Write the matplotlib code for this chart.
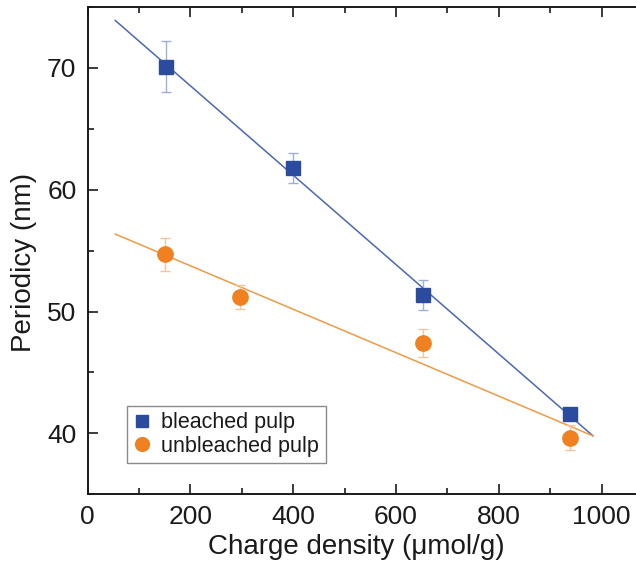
import numpy as np
import matplotlib
matplotlib.use("Agg")
import matplotlib.pyplot as plt
from matplotlib.ticker import MultipleLocator

plt.rcParams['font.family'] = ['Liberation Sans', 'DejaVu Sans']

# ---- data ----
bleached_x = [152, 400, 652, 939]
bleached_y = [70.1, 61.8, 51.35, 41.6]
bleached_err = [2.1, 1.25, 1.2, 0.3]

unbleached_x = [151, 296, 652, 939]
unbleached_y = [54.7, 51.2, 47.4, 39.65]
unbleached_err = [1.35, 1.0, 1.15, 1.0]

fit_x_range = [54, 983]

labels = ["bleached pulp", "unbleached pulp"]
xlabel = "Charge density (μmol/g)"
ylabel = "Periodicy (nm)"

# ---- figure ----
W, H = 636, 572
fig = plt.figure(figsize=(W / 100, H / 100), dpi=100)
px_per_unit = 0.5142
left_px, top_px, bottom_px = 87.5, 7.0, 494.3
xmax = 1100
ax = fig.add_axes([left_px / W, (H - bottom_px) / H,
                   xmax * px_per_unit / W, (bottom_px - top_px) / H])

blue = '#2a4b9e'
blue_line = '#4a68b4'
blue_err = '#9fb0d8'
orange = '#f08020'
orange_line = '#f09a45'
orange_err = '#f7c49a'

xf = np.linspace(fit_x_range[0], fit_x_range[1], 50)
pb = np.polyfit(bleached_x, bleached_y, 1)
pu = np.polyfit(unbleached_x, unbleached_y, 1)
ax.plot(xf, np.polyval(pb, xf), color=blue_line, lw=1.1, zorder=2)
ax.plot(xf, np.polyval(pu, xf), color=orange_line, lw=1.1, zorder=2)

ax.errorbar(bleached_x, bleached_y, yerr=bleached_err, fmt='none',
            ecolor=blue_err, elinewidth=1.0, capsize=3.5, capthick=1.0, zorder=3)
ax.errorbar(unbleached_x, unbleached_y, yerr=unbleached_err, fmt='none',
            ecolor=orange_err, elinewidth=1.0, capsize=3.5, capthick=1.0, zorder=3)
ax.plot(bleached_x, bleached_y, ls='none', marker='s', ms=10, color=blue,
        mec=blue, label=labels[0], zorder=4)
ax.plot(unbleached_x, unbleached_y, ls='none', marker='o', ms=11, color=orange,
        mec=orange, label=labels[1], zorder=4)

ax.set_xlim(0, xmax)
ax.set_ylim(35, 75)
ax.xaxis.set_major_locator(MultipleLocator(200))
ax.xaxis.set_minor_locator(MultipleLocator(100))
ax.yaxis.set_major_locator(MultipleLocator(10))
ax.yaxis.set_minor_locator(MultipleLocator(5))

txt = '#1a1a1a'
for s in ax.spines.values():
    s.set_linewidth(1.4)
    s.set_color(txt)
ax.tick_params(which='both', direction='in', top=True, right=True,
               width=1.2, color=txt, labelcolor=txt)
ax.tick_params(which='major', length=7)
ax.tick_params(which='minor', length=4)
ax.tick_params(axis='x', which='major', labelsize=19, pad=7.5)
ax.tick_params(axis='y', which='major', labelsize=19, pad=8.0)

ax.set_xlabel(xlabel, fontsize=20, color=txt, va='baseline', ha='center')
ax.xaxis.set_label_coords(356.7 / W, (H - 554) / H, transform=fig.transFigure)
ax.set_ylabel(ylabel, fontsize=20, color=txt, va='center', ha='center')
ax.yaxis.set_label_coords(23.6 / W, (H - 262) / H, transform=fig.transFigure)

leg = ax.legend(loc='upper left', bbox_to_anchor=(127.3 / W, (H - 406) / H),
                bbox_transform=fig.transFigure, fontsize=15.5, frameon=True,
                fancybox=False, edgecolor='#8a8a8a', framealpha=1,
                borderpad=0.3, labelspacing=0.1, handlelength=0.8,
                handletextpad=0.48, borderaxespad=0, markerscale=0.9)
leg.get_frame().set_linewidth(1.0)
for t in leg.get_texts():
    t.set_color(txt)

fig.savefig('out.png', dpi=100)
